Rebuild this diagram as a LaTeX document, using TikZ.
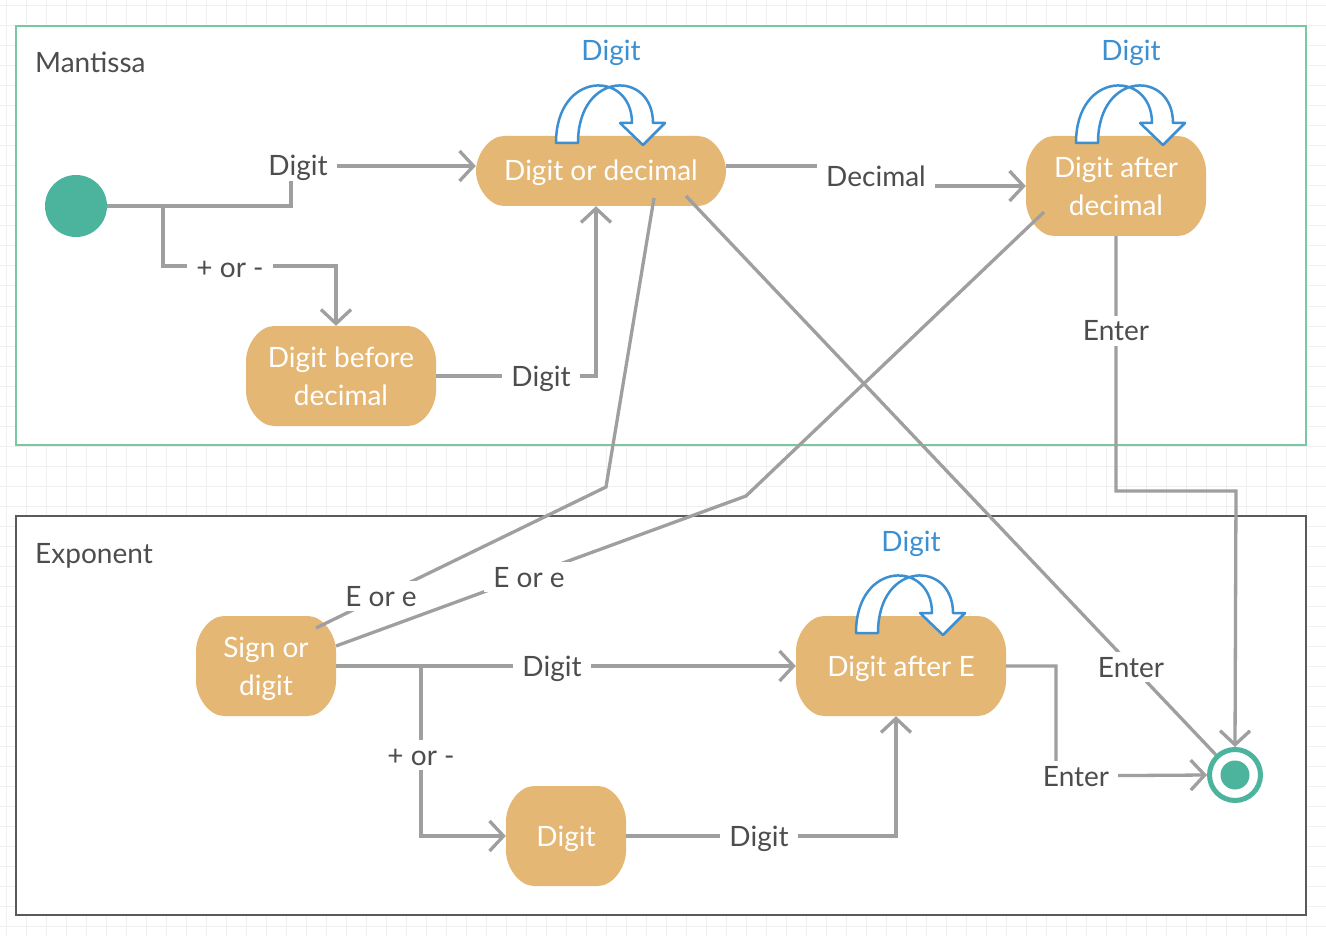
\documentclass[tikz,border=0pt]{standalone}
\usepackage{fontspec}
\setmainfont{Lato}
\usetikzlibrary{arrows.meta}
\definecolor{gline}{HTML}{9F9F9F}
\definecolor{orangeF}{HTML}{E5B774}
\definecolor{tealC}{HTML}{4CB39D}
\definecolor{blueL}{HTML}{3C8FD0}
\definecolor{txt}{HTML}{4D4D4D}
\definecolor{mgreen}{HTML}{78C8A2}
\definecolor{egray}{HTML}{5A5A5A}
\definecolor{gridc}{HTML}{F0F0F0}
\newcommand\fs{\fontsize{28}{38}\selectfont}
% state shape: centre x, centre y, width, height (elliptic corners)
\newcommand\stshape[4]{%
  \fill[orangeF] ({#1-#3/2+28},{#2-#4/2}) -- ({#1+#3/2-28},{#2-#4/2})
    .. controls ({#1+#3/2-28+15},{#2-#4/2}) and ({#1+#3/2},{#2-#4/2+19}) .. ({#1+#3/2},{#2-#4/2+35})
    -- ({#1+#3/2},{#2+#4/2-35})
    .. controls ({#1+#3/2},{#2+#4/2-19}) and ({#1+#3/2-28+15},{#2+#4/2}) .. ({#1+#3/2-28},{#2+#4/2})
    -- ({#1-#3/2+28},{#2+#4/2})
    .. controls ({#1-#3/2+28-15},{#2+#4/2}) and ({#1-#3/2},{#2+#4/2-19}) .. ({#1-#3/2},{#2+#4/2-35})
    -- ({#1-#3/2},{#2-#4/2+35})
    .. controls ({#1-#3/2},{#2-#4/2+19}) and ({#1-#3/2+28-15},{#2-#4/2}) .. cycle;}
\begin{document}
\begin{tikzpicture}[x=1pt,y=-1pt,
  state/.style={text=white, align=center, font=\fs, inner sep=0pt},
  oneline/.style={text height=20pt, text depth=0pt},
  lbl/.style={fill=white, text=txt, font=\fs, inner xsep=9pt, inner ysep=5pt, text height=20pt, text depth=0pt},
  title/.style={text=txt, font=\fs, inner sep=0pt, anchor=west, text height=20pt, text depth=0pt},
  looplbl/.style={text=blueL, font=\fs, inner sep=0pt, text height=20pt, text depth=0pt},
  conn/.style={draw=gline, line width=3.3pt, -{Straight Barb[length=14pt,width=30pt]}},
  plain/.style={draw=gline, line width=3.3pt},
  loopshape/.style={draw=blueL, fill=white, line width=2.5pt, line join=round}
]
\useasboundingbox (0,0) rectangle (1326,936);
\fill[white] (0,0) rectangle (1326,936);
\foreach \i in {0,...,66} \draw[gridc, line width=1pt] (6+20*\i,0) -- (6+20*\i,936);
\foreach \j in {0,...,46} \draw[gridc, line width=1pt] (0,6+20*\j) -- (1326,6+20*\j);

% containers
\draw[mgreen, line width=1.5pt, fill=white] (16,26) rectangle (1306,445);
\draw[egray, line width=1.5pt, fill=white] (16,516) rectangle (1306,915);
\node[title] (mant) at (35,63) {Mantissa};
\node[title] (expo) at (35,553) {Exponent};

% state backgrounds
\stshape{601}{171}{250}{70}
\stshape{1116}{186}{180}{100}
\stshape{341}{376}{190}{100}
\stshape{266}{666}{140}{100}
\stshape{901}{666}{210}{100}
\stshape{566}{836}{120}{100}

% nodes
\node[circle, fill=tealC, minimum size=62pt, inner sep=0pt] (start) at (76,206) {};
\node[state, oneline, minimum width=250pt, minimum height=70pt] (dod) at (601,171) {Digit or decimal};
\node[state, minimum width=180pt, minimum height=100pt] (dad) at (1116,186) {Digit after\\decimal};
\node[state, minimum width=190pt, minimum height=100pt] (dbd) at (341,376) {Digit before\\decimal};
\node[state, text depth=0pt, minimum width=140pt, minimum height=100pt] (sod) at (266,666) {Sign or\\digit};
\node[state, oneline, minimum width=210pt, minimum height=100pt] (dae) at (901,666) {Digit after E};
\node[state, oneline, minimum width=120pt, minimum height=100pt] (dex) at (566,836) {Digit};
\node[circle, draw=tealC, line width=5pt, fill=white, minimum size=51pt, inner sep=0pt] (end) at (1235,775) {};
\node[circle, fill=tealC, minimum size=29pt, inner sep=0pt] (enddot) at (1235,775) {};

% helper coordinates
\coordinate (b1) at (163,206);
\coordinate (dodE) at (654,198);
\coordinate (dodX) at (686,196);
\coordinate (k1) at (606,487);
\coordinate (sodA) at (316,628);
\coordinate (dadE) at (1044,212);
\coordinate (k2) at (746,496);
\coordinate (sodB) at (336,646);
\coordinate (b2) at (421,666);

% connectors
\draw[conn] (start.east) -| (291,166) -- ([yshift=5pt]dod.west);
\draw[conn] (b1) |- (336,266) -- (dbd.north -| 336,0);
\draw[conn] (dbd.east) -| (dod.south -| 596,0);
\draw[conn] ([yshift=5pt]dod.east) -- (876,166) -- (876,186) -- (dad.west);
\draw[conn] (dad.south) |- (1236,491) -- (end.north);
\draw[plain] (dodE) -- (k1) -- (sodA);
\draw[plain] (dadE) -- (k2) -- (sodB);
\draw[plain] (dodX) -- (end);
\draw[conn] (sod.east) -- (dae.west);
\draw[conn] (b2) |- (dex.west);
\draw[conn] (dex.east) -| (dae.south -| 896,0);
\draw[conn] (dae.east) -| (1056,776) -- (end.west);

% labels
\node[lbl] (l1) at (298,166) {Digit};
\node[lbl] (l2) at (230,267) {+ or -};
\node[lbl] (l3) at (541,376) {Digit};
\node[lbl] (l4) at (876,177) {Decimal};
\node[lbl] (l5) at (1116,331) {Enter};
\node[lbl] (l6) at (381,596) {E or e};
\node[lbl] (l7) at (529,577) {E or e};
\node[lbl] (l8) at (1131,667) {Enter};
\node[lbl] (l9) at (552,666) {Digit};
\node[lbl] (l10) at (421,755) {+ or -};
\node[lbl] (l11) at (759,836) {Digit};
\node[lbl] (l12) at (1076,776) {Enter};

% self loops
\foreach \dx/\dy/\n in {0/0/a, 520/0/b, 300/490/c} {
  \begin{scope}[shift={(\dx,\dy)}]
    \draw[loopshape] (556,143) .. controls (556,70) and (632,70) .. (632,123) -- (620,123) -- (643,145) -- (665,123) -- (653,123) .. controls (653,70) and (578,70) .. (578,143) -- cycle;
    \node[looplbl] (loop\n) at (611,51) {Digit};
  \end{scope}
}
\end{tikzpicture}
\end{document}
